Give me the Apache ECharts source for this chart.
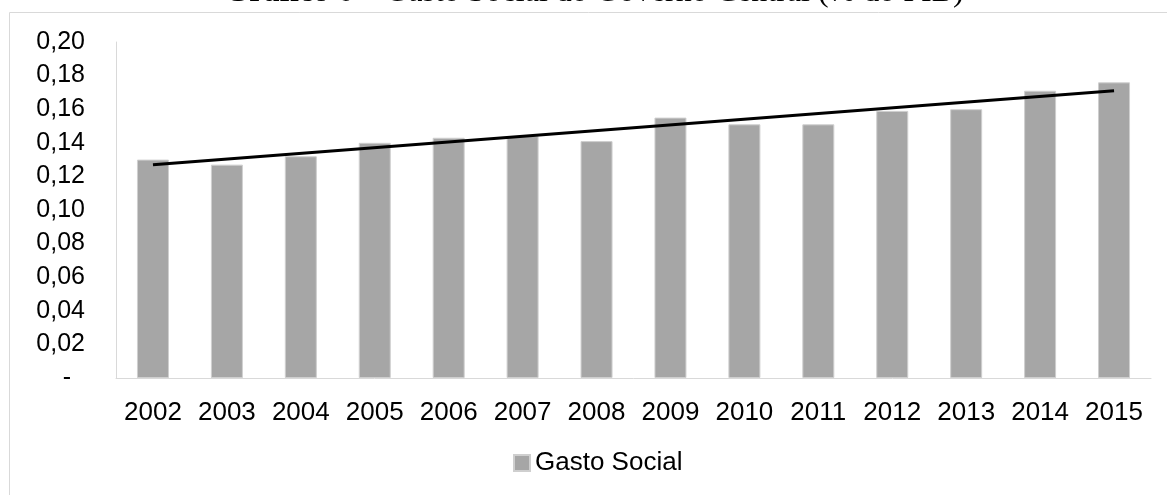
<!DOCTYPE html>
<html>
<head>
<meta charset="utf-8">
<script src="https://cdn.jsdelivr.net/npm/echarts@6/dist/echarts.min.js"></script>
<style>
  html, body { margin: 0; padding: 0; background: #fff; }
  #chart { width: 1167px; height: 495px; }
</style>
</head>
<body>
<div id="chart"></div>
<script>
// data
var years = ['2002', '2003', '2004', '2005', '2006', '2007', '2008', '2009', '2010', '2011', '2012', '2013', '2014', '2015']
var gastoSocial = [0.130, 0.127, 0.132, 0.140, 0.143, 0.144, 0.141, 0.155, 0.151, 0.151, 0.159, 0.160, 0.171, 0.176]
// linear trend: only its two ends are read, the rest is joined
var trend = [0.127, null, null, null, null, null, null, null, null, null, null, null, null, 0.171]
var yTickLabels = ['-  ', '0,02', '0,04', '0,06', '0,08', '0,10', '0,12', '0,14', '0,16', '0,18', '0,20']

var chart = echarts.init(document.getElementById('chart'))

chart.setOption({
  animation: false,
  textStyle: { fontFamily: 'Liberation Sans, Arial, sans-serif' },
  graphic: [
    {
      type: 'rect',
      shape: { x: 9.5, y: 12.5, width: 1200, height: 520 },
      style: { fill: 'none', stroke: '#d9d9d9', lineWidth: 1 },
      silent: true
    },
    {
      type: 'text',
      x: 594,
      y: -7,
      style: {
        text: '{b|Gráfico 6} – Gasto Social do Governo Central (% do PIB)',
        align: 'center',
        verticalAlign: 'middle',
        fontFamily: 'Liberation Serif, Times New Roman, serif',
        fontSize: 32,
        fill: '#000',
        rich: {
          b: { fontWeight: 'bold', fontSize: 32, fontFamily: 'Liberation Serif, Times New Roman, serif' }
        }
      }
    }
  ],
  grid: {
    left: 116,
    right: 16,
    top: 42,
    bottom: 117,
    containLabel: false
  },
  legend: {
    data: ['Gasto Social'],
    icon: 'rect',
    left: 513,
    top: 450,
    padding: 0,
    itemWidth: 16,
    itemHeight: 16,
    textStyle: { fontSize: 26, color: '#000' }
  },
  xAxis: {
    type: 'category',
    data: years,
    axisLine: { lineStyle: { color: '#d9d9d9', width: 1 } },
    axisTick: { show: false },
    axisLabel: { color: '#000', fontSize: 26, margin: 22, interval: 0 }
  },
  yAxis: {
    type: 'value',
    min: 0,
    max: 0.2,
    interval: 0.02,
    splitLine: { show: false },
    axisLine: { show: true, lineStyle: { color: '#d9d9d9', width: 1 } },
    axisTick: { show: false },
    axisLabel: {
      color: '#000',
      fontSize: 25,
      margin: 31,
      formatter: function (v) {
        return yTickLabels[Math.round(v / 0.02)]
      }
    }
  },
  series: [
    {
      name: 'Gasto Social',
      type: 'bar',
      data: gastoSocial,
      barWidth: 32,
      itemStyle: { color: '#a6a6a6', borderColor: '#cfcfcf', borderWidth: 1 }
    },
    {
      name: 'Tendência',
      type: 'line',
      data: trend,
      connectNulls: true,
      symbol: 'none',
      lineStyle: { color: '#000', width: 3 },
      z: 5
    }
  ]
})
</script>
</body>
</html>
